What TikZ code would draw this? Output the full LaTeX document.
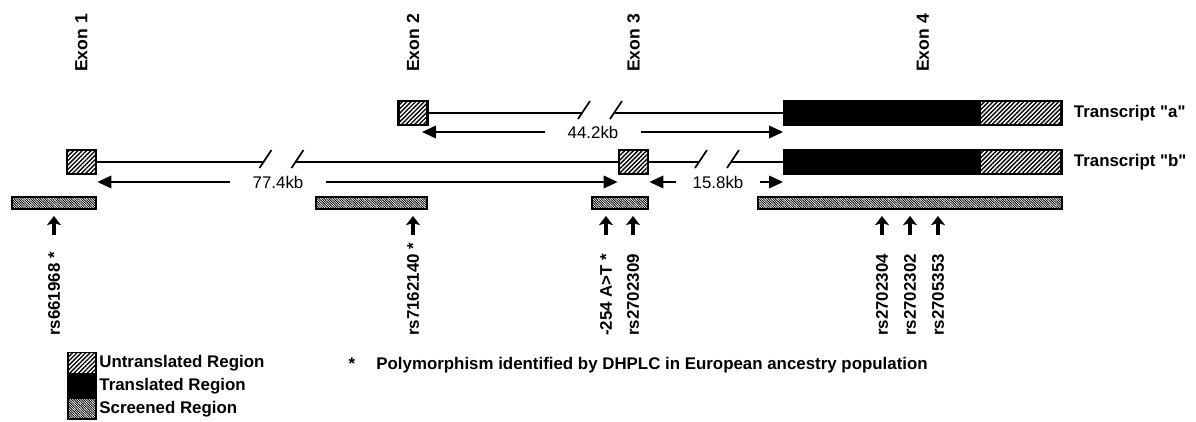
\documentclass[tikz,border=0pt]{standalone}
\usepackage{fontspec}
\setmainfont{Liberation Sans}[Ligatures=TeXOff]
\usetikzlibrary{arrows.meta, positioning, patterns.meta}
% two slashes cutting an intron line, #1 and #2 are where they cross it
\newcommand{\gbrk}[2]{%
  \draw[line width=1.2pt] ([shift={(-4,6)}]#1) -- ([shift={(8,-12)}]#1);
  \draw[line width=1.2pt] ([shift={(-4,6)}]#2) -- ([shift={(8,-12)}]#2);}
% SNP: rotated label and the arrow above it
\newcommand{\gsnp}[3]{%
  \node[snplab] (#1) at (#2,336) {#3};
  \draw[snp] (#1.west |- 0,235) -- (#1.west |- 0,216);}

\begin{document}
\begin{tikzpicture}[x=0.025cm, y=-0.025cm,
  every node/.style={font=\fontsize{12}{14}\selectfont},
  utr/.style={draw, line width=2pt, inner sep=0, preaction={fill=white},
    pattern={Lines[angle=45, distance=2.2pt, line width=1pt]},
    minimum width=0.725cm, minimum height=0.6cm},
  cds/.style={draw, line width=2pt, fill=black, inner sep=0, minimum height=0.6cm},
  scr/.style={draw, line width=1.6pt, inner sep=0, preaction={fill=white},
    pattern={Lines[angle=-45, distance=1.2pt, line width=0.55pt]},
    minimum height=0.29cm},
  intron/.style={line width=1.2pt},
  dim/.style={line width=1.2pt, -{Triangle[length=10pt, width=9pt]}},
  kb/.style={inner xsep=0.55cm},
  snp/.style={line width=2.6pt, -{Stealth[length=6.5pt, width=10pt, inset=1.5pt]}},
  snplab/.style={font=\fontsize{12}{14}\selectfont\bfseries, rotate=90, anchor=west, inner sep=0},
  exlab/.style={font=\fontsize{12.5}{14}\selectfont\bfseries, rotate=90},
  trlab/.style={font=\fontsize{12}{14}\selectfont\bfseries},
  lgtxt/.style={font=\fontsize{12}{14}\selectfont\bfseries, inner xsep=1.5pt}]
\useasboundingbox (0,0) rectangle (1196,421);
% transcript a
\node[utr] (exII) at (413,113) {};
\node[cds, minimum width=6.925cm] (exIVa) at (923,113) {};
\node[utr, minimum width=2.05cm, anchor=east] (utIVa) at (exIVa.east) {};
\coordinate (bA1) at (582,113);
\coordinate (bA2) at (614,113);
\draw[intron] (exII) -- (bA1);
\draw[intron] (bA2) -- (exIVa);
\gbrk{bA1}{bA2}
\node[trlab, right=0.15cm of utIVa] (trA) {Transcript "a"};
% transcript b
\node[utr] (exIb) at (81.5,162) {};
\node[utr] (exIII) at (633.5,162) {};
\node[cds, minimum width=6.925cm] (exIVb) at (923,162) {};
\node[utr, minimum width=2.05cm, anchor=east] (utIVb) at (exIVb.east) {};
\coordinate (bB1) at (263.5,162);
\coordinate (bB2) at (295.5,162);
\coordinate (bB3) at (699,162);
\coordinate (bB4) at (731,162);
\draw[intron] (exIb) -- (bB1);
\draw[intron] (bB2) -- (exIII);
\draw[intron] (exIII) -- (bB3);
\draw[intron] (bB4) -- (exIVb);
\gbrk{bB1}{bB2}
\gbrk{bB3}{bB4}
\node[trlab, right=0.15cm of utIVb] (trB) {Transcript "b"};
% exon names
\node[exlab] (lxI) at (exIb |- 0,43) {Exon 1};
\node[exlab] (lxII) at (exII |- 0,43) {Exon 2};
\node[exlab] (lxIII) at (exIII |- 0,43) {Exon 3};
\node[exlab] (lxIV) at (exIVa |- 0,43) {Exon 4};
% distances
\node[kb] (kbA) at (593,132) {44.2kb};
\coordinate (tA) at (422,132);
\draw[dim] (kbA.west) -- (tA);
\draw[dim] (kbA.east) -- (kbA.east -| exIVa.west);
\node[kb] (kbB) at (278,182) {77.4kb};
\draw[dim] (kbB.west) -- (kbB.west -| exIb.east);
\draw[dim] (kbB.east) -- (kbB.east -| exIII.west);
\node[kb, inner xsep=0.42cm] (kbC) at (718,182) {15.8kb};
\draw[dim] (kbC.west) -- (kbC.west -| exIII.east);
\draw[dim] (kbC.east) -- (kbC.east -| exIVb.west);
% screened regions
\node[scr, minimum width=2.09cm] (scrI) at (54,203) {};
\node[scr, minimum width=2.77cm] (scrII) at (371.5,203) {};
\node[scr, minimum width=1.39cm] (scrIII) at (620,203) {};
\node[scr, minimum width=7.59cm] (scrIV) at (910,203) {};
% SNPs
\gsnp{sI}{54}{rs661968 *}
\gsnp{sII}{413}{rs7162140 *}
\gsnp{sIIIa}{606}{-254 A>T *}
\gsnp{sIIIb}{633}{rs2702309}
\gsnp{sIVa}{882}{rs2702304}
\gsnp{sIVb}{910}{rs2702302}
\gsnp{sIVc}{938}{rs2705353}
% legend
\node[utr, line width=1.4pt, minimum width=0.7cm, minimum height=0.525cm] (lgU) at (82,363) {};
\node[cds, line width=1.4pt, minimum width=0.7cm, minimum height=0.525cm, below=0cm of lgU] (lgT) {};
\node[scr, line width=1.4pt, minimum width=0.7cm, minimum height=0.525cm, below=0cm of lgT] (lgS) {};
\node[lgtxt, right=0cm of lgU] (tU) {Untranslated Region};
\node[lgtxt, right=0cm of lgT] (tT) {Translated Region};
\node[lgtxt, right=0cm of lgS] (tS) {Screened Region};
\node[lgtxt, anchor=base] (nstar) at (352,369) {*};
\node[lgtxt, anchor=base west] (nnote) at (374,369) {Polymorphism identified by DHPLC in European ancestry population};
\end{tikzpicture}
\end{document}
